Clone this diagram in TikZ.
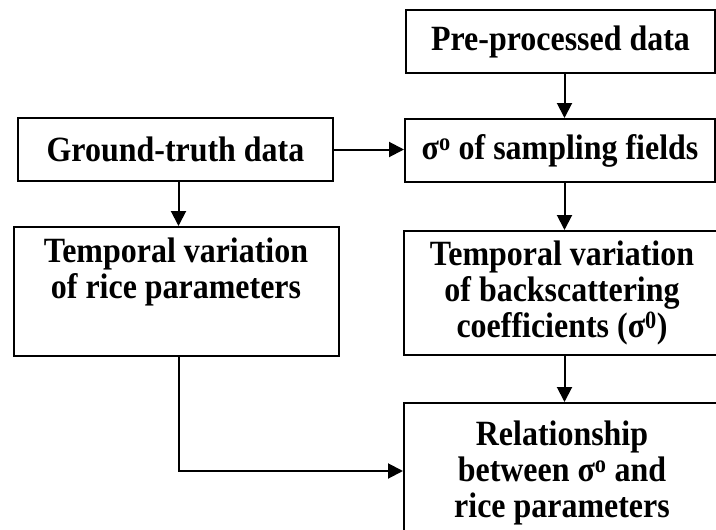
\documentclass[tikz,border=0pt]{standalone}
\usepackage{fontspec}
\setmainfont{Liberation Serif}[FakeStretch=0.9]
\usetikzlibrary{arrows.meta,%
		positioning}

\tikzset{
  blocco/.style={draw=black, line width=2pt, inner sep=0pt, align=center,
    font=\bfseries\fontsize{35.5}{36}\selectfont},
  freccia/.style={line width=2pt, -{Triangle[length=15pt,width=15pt]}}
}
\newcommand{\sig}{σ\textsuperscript{o}}

\begin{document}
\begin{tikzpicture}[x=1pt,y=-1pt]

  \path[use as bounding box, clip] (0,0) rectangle (716,530);%area del disegno
  \node[blocco, minimum width=309, minimum height=63] (pre) at (560.5,41.5) {Pre-processed data};%dati pre-elaborati
  \node[blocco, minimum width=310, minimum height=63] (sigma) at (560,150.5) {\sig{} of sampling fields};%sigma dei campi
  \node[blocco, minimum width=315, minimum height=63] (ground) at (175.5,149.5) {Ground-truth data};%dati a terra
  \node[blocco, minimum width=325, minimum height=129] (rice) at (176,291.5) {Temporal variation\\of rice parameters\\\strut};%parametri del riso
  \node[blocco, minimum width=316, minimum height=124] (backsc) at (562,293) {Temporal variation\\of backscattering\\coefficients (σ\textsuperscript{0})};%coefficienti
  \node[blocco, minimum width=316, minimum height=140] (relat) at (562,473) {Relationship\\between \sig{} and\\rice parameters};%relazione
  \draw[freccia] ([xshift=4pt]pre.south) -- ([xshift=4.5pt]sigma.north);%da pre a sigma
  \draw[freccia] (ground.east) -- (ground.east -| sigma.west);%da ground a sigma
  \draw[freccia] ([xshift=3pt]ground.south) -- ([xshift=3pt]ground.south |- rice.north);%da ground a rice
  \draw[freccia] ([xshift=4.5pt]sigma.south) -- ([xshift=2.5pt]backsc.north);%da sigma a backsc
  \draw[freccia] ([xshift=2.5pt]backsc.south) -- ([xshift=2.5pt]relat.north);%da backsc a relat
  \draw[freccia] ([xshift=3pt]rice.south) |- ([yshift=2pt]relat.west);%da rice a relat
\end{tikzpicture}
\end{document}
